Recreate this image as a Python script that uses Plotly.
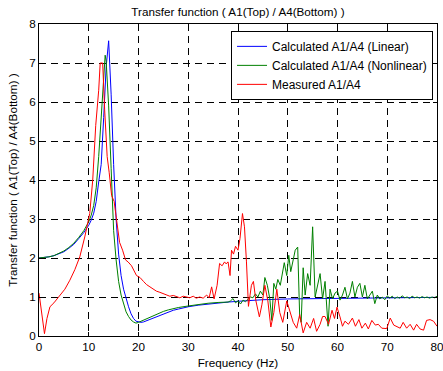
import plotly.graph_objects as go

# ---- data ----
lin_f = [0, 1, 2, 3, 4, 5, 6, 7, 8, 9, 10, 10.5, 11, 11.5, 12, 12.5, 13, 13.5, 14, 14.5,
         15, 15.5, 16, 16.5, 17, 17.5, 18, 18.5, 19, 19.5, 20, 20.5, 21, 22, 23, 24, 25,
         26, 27, 28, 30, 32, 34, 36, 38, 40, 42, 45, 50, 55, 60, 65, 70, 75, 80]
lin_v = [2.0, 2.01, 2.03, 2.06, 2.1, 2.16, 2.25, 2.35, 2.5, 2.65, 2.84, 2.97, 3.15, 3.45,
         3.95, 4.4, 5.6, 6.9, 7.57, 6.2, 4.4, 3.0, 2.1, 1.55, 1.2, 0.95, 0.75, 0.57, 0.45,
         0.38, 0.36, 0.35, 0.36, 0.41, 0.47, 0.53, 0.58, 0.62, 0.66, 0.69, 0.75, 0.79, 0.82,
         0.85, 0.87, 0.89, 0.91, 0.93, 0.95, 0.96, 0.97, 0.975, 0.98, 0.985, 0.99]

nl_f = [0, 1, 2, 3, 4, 5, 6, 7, 8, 9, 10, 10.5, 11, 11.5, 12, 12.5, 13, 13.3, 13.5, 14,
        14.5, 15, 15.5, 16, 16.5, 17, 17.5, 18, 18.5, 19, 19.5, 20, 20.5, 21, 22, 23, 24,
        25, 26, 27, 28, 30, 32, 34, 36, 38, 38.5, 39, 39.5, 40, 40.5, 41, 41.5, 42, 42.5,
        43, 43.5, 44, 44.5, 45, 45.4, 45.9, 46.4, 46.8, 47.2, 47.6, 48, 48.5, 49, 49.3,
        49.8, 50.2, 50.6, 51, 51.5, 52, 52.4, 52.7, 53.1, 53.5, 54, 54.5, 55, 55.5, 56,
        56.5, 57, 57.5, 58.1, 58.5, 59, 59.5, 60, 60.5, 61, 61.5, 62, 62.5, 63, 63.5, 64,
        64.5, 65, 65.5, 66, 66.5, 67, 67.5, 68, 68.5, 69, 69.5, 70, 70.5, 71, 71.5, 72,
        72.5, 73, 73.5, 74, 74.5, 75, 75.5, 76, 76.5, 77, 77.5, 78, 78.5, 79, 79.5, 80]
nl_v = [2.0, 2.01, 2.03, 2.06, 2.11, 2.18, 2.27, 2.38, 2.53, 2.7, 2.93, 3.1, 3.35, 3.8,
        4.6, 5.6, 6.7, 7.2, 7.05, 5.9, 4.3, 2.7, 1.95, 1.4, 1.05, 0.8, 0.62, 0.5, 0.41,
        0.36, 0.33, 0.35, 0.38, 0.41, 0.47, 0.53, 0.59, 0.63, 0.67, 0.7, 0.73, 0.77, 0.81,
        0.84, 0.86, 0.87, 0.9, 0.96, 0.85, 0.9, 0.82, 0.92, 0.88, 0.95, 1.0, 0.98, 1.08,
        1.0, 1.15, 1.05, 1.5, 1.3, 0.95, 0.4, 1.35, 1.2, 1.45, 1.3, 1.7, 1.88, 1.55, 2.07,
        1.65, 1.9, 2.2, 2.28, 0.5, 0.35, 1.75, 1.05, 1.6, 1.3, 2.8, 1.0, 1.3, 1.6, 0.95,
        1.4, 0.25, 1.2, 0.95, 1.1, 1.15, 0.92, 1.05, 1.25, 0.95, 1.1, 1.4, 1.0, 1.25, 1.35,
        1.0, 1.3, 0.95, 1.05, 1.15, 0.83, 1.05, 0.95, 1.0, 0.93, 1.03, 0.97, 1.02, 0.96,
        1.0, 0.97, 1.03, 0.98, 1.0, 0.96, 1.02, 0.98, 1.0, 0.97, 1.01, 0.98, 1.0, 0.97,
        1.0, 0.98, 1.02]

meas_f = [0, 0.5, 1.1, 1.6, 2.2, 3.0, 4.2, 5.2, 6.2, 7.2, 8.2, 9.2, 10.2, 10.8, 11.4, 12.0,
          12.3, 12.8, 13.2, 13.7, 14.1, 14.6, 15.1, 15.6, 16.2, 16.8, 17.4, 17.9, 18.6,
          19.6, 20.3, 21.0, 21.6, 22.3, 23.0, 23.6, 24.3, 25.0, 26.3, 27.0, 27.7, 28.3,
          29.0, 29.7, 30.3, 31.0, 31.6, 32.3, 33.0, 33.7, 34.2, 34.7, 35.2, 35.8, 36.3,
          36.8, 37.3, 37.6, 38.0, 38.4, 38.7, 39.1, 39.5, 40.0, 40.4, 40.9, 41.3, 41.7,
          42.1, 42.7, 43.1, 43.6, 44.3, 44.8, 45.4, 46.0, 46.6, 47.2, 47.8, 48.4, 49.0,
          49.8, 50.5, 51.1, 51.8, 52.4, 53.1, 53.8, 54.5, 55.2, 55.8, 56.5, 57.0, 57.5,
          58.2, 58.9, 59.4, 59.9, 60.5, 61.0, 61.5, 62.2, 63.0, 63.6, 64.3, 64.9, 65.6,
          66.2, 66.9, 67.6, 68.2, 68.9, 69.9, 70.6, 71.3, 72.6, 73.2, 73.9, 74.6, 75.3,
          75.9, 76.6, 77.3, 77.9, 78.6, 79.3, 80.0]
meas_v = [1.1, 0.6, 0.06, 0.45, 0.75, 0.85, 1.04, 1.2, 1.43, 1.7, 2.03, 2.54, 3.14, 4.0,
          5.4, 6.3, 7.0, 7.0, 5.8, 4.6, 4.2, 3.6, 3.45, 2.97, 2.4, 2.2, 1.95, 1.9, 1.8,
          1.55, 1.5, 1.4, 1.32, 1.26, 1.2, 1.15, 1.12, 1.08, 1.02, 1.04, 1.0, 0.98, 1.02,
          0.99, 0.98, 1.02, 0.97, 1.0, 0.97, 1.05, 0.98, 1.26, 0.95, 1.3, 1.86, 1.8, 1.9,
          1.85, 1.9, 1.55, 2.2, 2.1, 2.3, 2.2, 2.5, 3.14, 2.8, 1.9, 0.76, 1.3, 1.4, 0.9,
          0.49, 0.8, 1.3, 0.9, 0.23, 0.6, 1.2, 0.6, 0.35, 0.9, 0.6, 0.35, 0.2, 0.55, 0.08,
          0.35, 0.2, 0.45, 0.12, 0.3, 0.5, 0.5, 0.3, 0.66, 0.45, 0.74, 0.49, 0.25, 0.38,
          0.3, 0.46, 0.25, 0.42, 0.2, 0.33, 0.18, 0.4, 0.28, 0.3, 0.2, 0.19, 0.46, 0.28,
          0.2, 0.35, 0.2, 0.3, 0.15, 0.3, 0.18, 0.15, 0.4, 0.42, 0.38, 0.25]

x_ticks = [0, 10, 20, 30, 40, 50, 60, 70, 80]
y_ticks = [0, 1, 2, 3, 4, 5, 6, 7, 8]

FONT = "Liberation Sans, Arial, sans-serif"
FS = 11.7

fig = go.Figure()
fig.add_trace(go.Scatter(x=lin_f, y=lin_v, mode="lines", name="Calculated A1/A4 (Linear)",
                         line=dict(color="#0000ff", width=1)))
fig.add_trace(go.Scatter(x=nl_f, y=nl_v, mode="lines", name="Calculated A1/A4 (Nonlinear)",
                         line=dict(color="#008000", width=1)))
fig.add_trace(go.Scatter(x=meas_f, y=meas_v, mode="lines", name="Measured A1/A4",
                         line=dict(color="#ff0000", width=1)))

axis_common = dict(showline=True, linecolor="black", linewidth=1, mirror="ticks",
                   ticks="inside", ticklen=4, tickcolor="black", automargin=False,
                   ticklabeloverflow="allow",
                   showgrid=True, gridcolor="black", gridwidth=1, griddash="7px,5px",
                   zeroline=False, tickfont=dict(size=FS, color="black", family=FONT))

fig.update_xaxes(range=[0, 80], tickvals=x_ticks,
                 title=dict(text="Frequency (Hz)", font=dict(size=FS, color="black", family=FONT),
                            standoff=6),
                 **axis_common)
fig.update_yaxes(range=[0, 8], tickvals=y_ticks,
                 title=dict(text="Transfer function ( A1(Top) / A4(Bottom) )",
                            font=dict(size=FS, color="black", family=FONT), standoff=9),
                 **axis_common)

fig.update_layout(
    width=443, height=371,
    margin=dict(l=39, r=6, t=24, b=35),
    paper_bgcolor="white", plot_bgcolor="white",
    font=dict(family=FONT, size=FS, color="black"),
    title=dict(text="Transfer function ( A1(Top) / A4(Bottom) )", x=0.5, xref="paper",
               xanchor="center", y=1 - 12 / 371, yref="container", yanchor="middle",
               font=dict(size=FS, color="black", family=FONT)),
    legend=dict(x=0.99, xanchor="right", y=0.978, yanchor="top",
                bgcolor="white", bordercolor="black", borderwidth=1,
                font=dict(size=12, color="black", family=FONT), tracegroupgap=0),
    showlegend=True,
)

fig.write_html("out.html", config={"displayModeBar": False},
               post_script="document.body.style.margin='0px';")
